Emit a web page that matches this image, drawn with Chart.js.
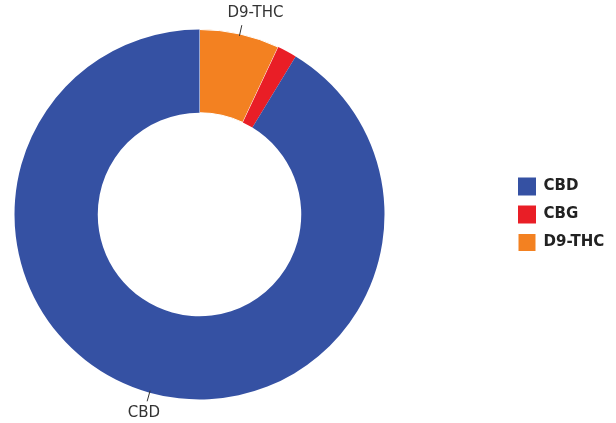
<!DOCTYPE html>
<html>
<head>
<meta charset="utf-8">
<script src="https://cdn.jsdelivr.net/npm/chart.js@4/dist/chart.umd.min.js"></script>
<style>
  body { margin: 0; background: #fff; }
</style>
</head>
<body>
<canvas id="cannabinoid-chart" width="616" height="423"></canvas>
<script>
// legend order (top to bottom)
const cannabinoids = ['CBD', 'CBG', 'D9-THC']
const percentShare = [91.3, 1.7, 7.0]
const sliceColors = ['#3551A3', '#E91E26', '#F38121']

// slices run clockwise from 12 o'clock as D9-THC, CBG, CBD, so feed them reversed
const labels = cannabinoids.slice().reverse()
const values = percentShare.slice().reverse()
const colors = sliceColors.slice().reverse()

const legendLeft = 508
const legendWidth = 616 - 385

// keep the doughnut on the left half and push the legend to the right edge
const legendSpot = {
  id: 'legendSpot',
  beforeLayout(chart) {
    const legend = chart.legend
    if (legend && !legend._wrapped) {
      const fit = legend.fit
      legend.fit = function () {
        fit.call(this)
        this.width = legendWidth
      }
      legend._wrapped = true
    }
  },
  afterLayout(chart) {
    const legend = chart.legend
    legend.left = legendLeft
    legend.right = 616
  }
}

// outside labels with a short leader line (small slices left unlabelled)
const sliceLabels = {
  id: 'sliceLabels',
  afterDatasetsDraw(chart) {
    const ctx = chart.ctx
    const meta = chart.getDatasetMeta(0)
    meta.data.forEach((arc, i) => {
      if (chart.data.datasets[0].data[i] < 5) return
      const { x, y, startAngle, endAngle, outerRadius } =
        arc.getProps(['x', 'y', 'startAngle', 'endAngle', 'outerRadius'], true)
      const mid = (startAngle + endAngle) / 2
      const cos = Math.cos(mid)
      const sin = Math.sin(mid)
      ctx.save()
      ctx.strokeStyle = '#333'
      ctx.lineWidth = 1
      ctx.beginPath()
      ctx.moveTo(x + cos * (outerRadius - 2), y + sin * (outerRadius - 2))
      ctx.lineTo(x + cos * (outerRadius + 9), y + sin * (outerRadius + 9))
      ctx.stroke()
      ctx.font = '15px "DejaVu Sans"'
      ctx.fillStyle = '#333'
      ctx.textAlign = 'center'
      ctx.textBaseline = 'middle'
      // labels above the ring sit a little to the right of their tick
      const nudge = sin < 0 ? 11 : 0
      ctx.fillText(chart.data.labels[i], x + cos * (outerRadius + 21) + nudge, y + sin * (outerRadius + 21))
      ctx.restore()
    })
  }
}

const data = {
  labels: labels,
  datasets: [
    {
      data: values,
      backgroundColor: colors,
      borderColor: '#ffffff',
      borderWidth: [1, 0, 0],
      hoverOffset: 0
    }
  ]
}

const config = {
  type: 'doughnut',
  data: data,
  options: {
    responsive: false,
    maintainAspectRatio: false,
    animation: false,
    cutout: '55%',
    layout: { padding: { left: 14, right: 0, top: 29, bottom: 23 } },
    plugins: {
      tooltip: { enabled: false },
      legend: {
        position: 'right',
        reverse: true,
        labels: {
          boxWidth: 18,
          boxHeight: 18,
          padding: 10,
          color: '#222',
          font: { family: 'DejaVu Sans', size: 15, weight: 'bold' }
        }
      }
    }
  },
  plugins: [legendSpot, sliceLabels]
}

const myChart = new Chart(document.getElementById('cannabinoid-chart'), config)
</script>
</body>
</html>
